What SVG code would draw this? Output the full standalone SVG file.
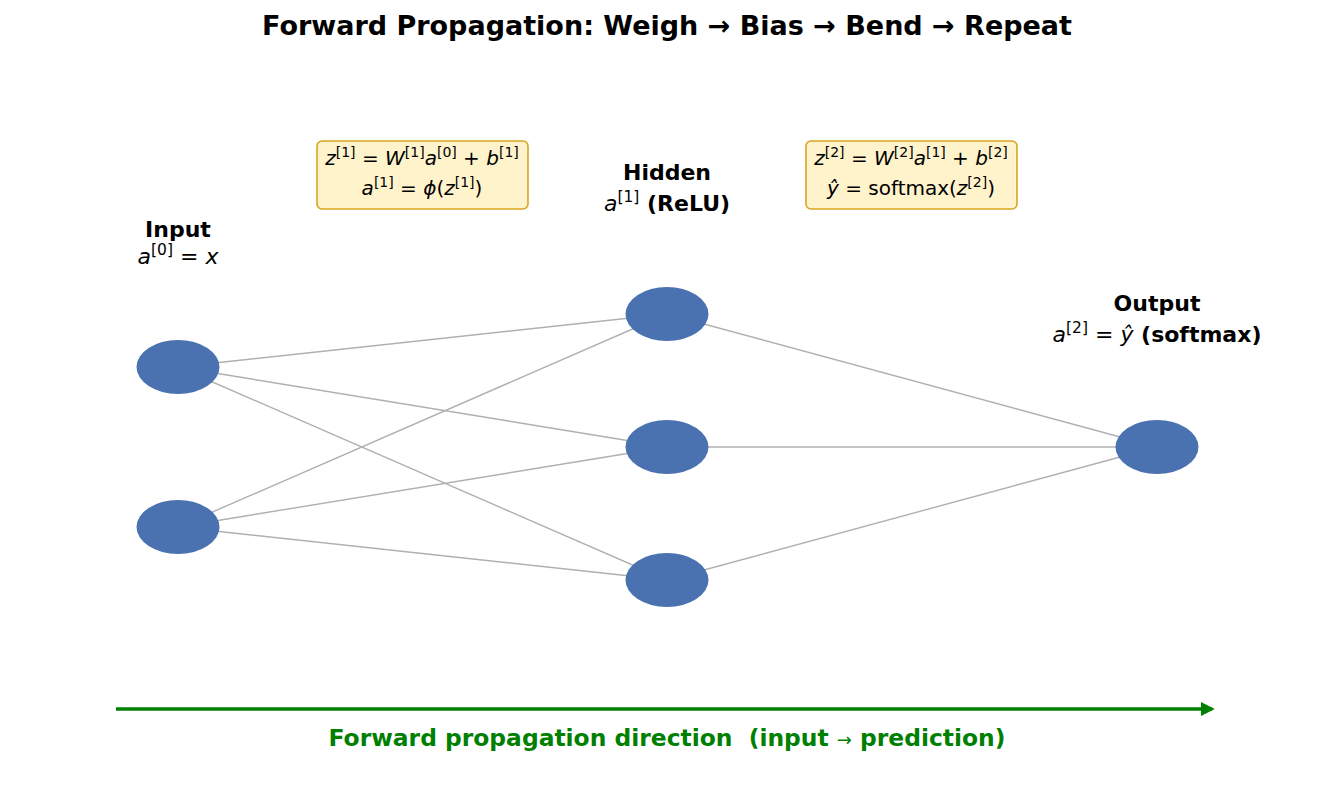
<svg xmlns="http://www.w3.org/2000/svg" width="1335" height="809" viewBox="0 0 1335 809">
<style>
.t{font-family:"DejaVu Sans",sans-serif;fill:#000}
.b{font-weight:bold}
.m{font-size:20px}
.L{font-size:22px}
.i{font-style:italic}
.s{font-size:14px}
.S{font-size:15.5px}
.node{fill:#4a71b0}
.edge{stroke:#b0b0b0;stroke-width:1.4;fill:none}
.box{fill:#fff3cc;stroke:#d9a521;stroke-width:1.6}
</style>
<defs>
<marker id="ah" viewBox="0 0 10 10" refX="8" refY="5" markerWidth="4" markerHeight="4" orient="auto">
<path d="M0,0 L10,5 L0,10 z" fill="#008000"/>
</marker>
</defs>
<rect width="1335" height="809" fill="#fff"/>
<text class="t b" x="667" y="35" font-size="27" text-anchor="middle">Forward Propagation: Weigh → Bias → Bend → Repeat</text>
<g id="connectors">
<line class="edge" x1="178" y1="367" x2="667" y2="314"/>
<line class="edge" x1="178" y1="367" x2="667" y2="447"/>
<line class="edge" x1="178" y1="367" x2="667" y2="580"/>
<line class="edge" x1="178" y1="527" x2="667" y2="314"/>
<line class="edge" x1="178" y1="527" x2="667" y2="447"/>
<line class="edge" x1="178" y1="527" x2="667" y2="580"/>
<line class="edge" x1="667" y1="314" x2="1157" y2="447"/>
<line class="edge" x1="667" y1="447" x2="1157" y2="447"/>
<line class="edge" x1="667" y1="580" x2="1157" y2="447"/>
<line x1="116" y1="709" x2="1212" y2="709" stroke="#008000" stroke-width="3.5" marker-end="url(#ah)"/>
</g>
<g id="in1"><ellipse class="node" cx="178" cy="367" rx="41.5" ry="27"/></g>
<g id="in2"><ellipse class="node" cx="178" cy="527" rx="41.5" ry="27"/></g>
<g id="h1"><ellipse class="node" cx="667" cy="314" rx="41.5" ry="27"/></g>
<g id="h2"><ellipse class="node" cx="667" cy="447" rx="41.5" ry="27"/></g>
<g id="h3"><ellipse class="node" cx="667" cy="580" rx="41.5" ry="27"/></g>
<g id="out"><ellipse class="node" cx="1157" cy="447" rx="41.5" ry="27"/></g>
<g id="label-input">
<text class="t b" x="178" y="237" font-size="22" text-anchor="middle">Input</text>
<text class="t L" x="178" y="264" text-anchor="middle"><tspan class="i">a</tspan><tspan class="S" dy="-9">[0]</tspan><tspan dy="9"> = </tspan><tspan class="i">x</tspan></text>
</g>
<g id="label-hidden">
<text class="t b" x="667" y="180" font-size="22" text-anchor="middle">Hidden</text>
<text class="t L" x="667" y="211" text-anchor="middle"><tspan class="i">a</tspan><tspan class="S" dy="-9">[1]</tspan><tspan dy="9" class="b"> (ReLU)</tspan></text>
</g>
<g id="label-output">
<text class="t b" x="1157" y="311" font-size="22" text-anchor="middle">Output</text>
<text class="t L" x="1157" y="342" text-anchor="middle"><tspan class="i">a</tspan><tspan class="S" dy="-9">[2]</tspan><tspan dy="9"> = </tspan><tspan class="i">ŷ</tspan><tspan class="b"> (softmax)</tspan></text>
</g>
<g id="box1">
<rect class="box" x="317" y="141" width="211" height="68" rx="5"/>
<text class="t m" x="422" y="165" text-anchor="middle"><tspan class="i">z</tspan><tspan class="s" dy="-8">[1]</tspan><tspan dy="8"> = </tspan><tspan class="i">W</tspan><tspan class="s" dy="-8">[1]</tspan><tspan dy="8" class="i">a</tspan><tspan class="s" dy="-8">[0]</tspan><tspan dy="8"> + </tspan><tspan class="i">b</tspan><tspan class="s" dy="-8">[1]</tspan></text>
<text class="t m" x="422" y="195" text-anchor="middle"><tspan class="i">a</tspan><tspan class="s" dy="-8">[1]</tspan><tspan dy="8"> = </tspan><tspan class="i">ϕ</tspan><tspan>(</tspan><tspan class="i">z</tspan><tspan class="s" dy="-8">[1]</tspan><tspan dy="8">)</tspan></text>
</g>
<g id="box2">
<rect class="box" x="806" y="141" width="211" height="68" rx="5"/>
<text class="t m" x="911" y="165" text-anchor="middle"><tspan class="i">z</tspan><tspan class="s" dy="-8">[2]</tspan><tspan dy="8"> = </tspan><tspan class="i">W</tspan><tspan class="s" dy="-8">[2]</tspan><tspan dy="8" class="i">a</tspan><tspan class="s" dy="-8">[1]</tspan><tspan dy="8"> + </tspan><tspan class="i">b</tspan><tspan class="s" dy="-8">[2]</tspan></text>
<text class="t m" x="911" y="195" text-anchor="middle"><tspan class="i">ŷ</tspan><tspan> = softmax(</tspan><tspan class="i">z</tspan><tspan class="s" dy="-8">[2]</tspan><tspan dy="8">)</tspan></text>
</g>
<text class="t b" x="667" y="746" font-size="23.4" text-anchor="middle" style="fill:#008000" xml:space="preserve">Forward propagation direction  (input <tspan font-weight="normal" font-size="18">→</tspan> prediction)</text>
</svg>
